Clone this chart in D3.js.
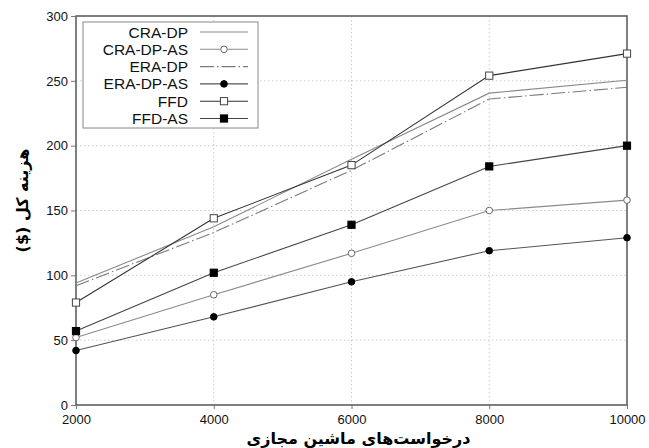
<!DOCTYPE html>
<html>
<head>
<meta charset="utf-8">
<script src="https://cdn.jsdelivr.net/npm/d3@7"></script>
<style>
body { margin: 0; background: #fff; }
text { font-family: "Liberation Sans", Arial, sans-serif; }
</style>
</head>
<body>
<script>
var requests = [2000, 4000, 6000, 8000, 10000];
var xTicks = [2000, 4000, 6000, 8000, 10000];
var yTicks = [0, 50, 100, 150, 200, 250, 300];

var craDp   = [94, 137.5, 189.5, 240.5, 250.5];
var craDpAs = [52, 85, 117, 150, 158];
var eraDp   = [92, 133, 181, 236, 245];
var eraDpAs = [42, 68, 95, 119, 129];
var ffd     = [79, 144, 185, 254, 271];
var ffdAs   = [57, 102, 139, 184, 200];

var seriesNames = ["CRA-DP", "CRA-DP-AS", "ERA-DP", "ERA-DP-AS", "FFD", "FFD-AS"];
var seriesValues = [craDp, craDpAs, eraDp, eraDpAs, ffd, ffdAs];
var styles = [
  {stroke: "#8a8a8a", dash: null, marker: null},
  {stroke: "#8a8a8a", dash: null, marker: "circle", fill: "#fff"},
  {stroke: "#7a7a7a", dash: "14,3,1.5,3", marker: null},
  {stroke: "#555", dash: null, marker: "circle", fill: "#000"},
  {stroke: "#333", dash: null, marker: "square", fill: "#fff"},
  {stroke: "#444", dash: null, marker: "square", fill: "#000"}
];

var W = 649, H = 448;
var margin = {left: 76, top: 16, right: 22, bottom: 43};
var w = W - margin.left - margin.right;
var h = H - margin.top - margin.bottom;

var svg = d3.select("body").append("svg")
  .attr("width", W)
  .attr("height", H);

var g = svg.append("g")
  .attr("transform", "translate(" + margin.left + "," + margin.top + ")");

var x = d3.scaleLinear().domain([2000, 10000]).range([0, w]);
var y = d3.scaleLinear().domain([0, 300]).range([h, 0]);

// grid
g.append("g").selectAll("line")
  .data(yTicks.slice(1, -1))
  .enter().append("line")
  .attr("x1", 0).attr("x2", w)
  .attr("y1", d => y(d)).attr("y2", d => y(d))
  .attr("stroke", "#ccc").attr("stroke-dasharray", "1.5,2.5");
g.append("g").selectAll("line")
  .data(xTicks.slice(1, -1))
  .enter().append("line")
  .attr("y1", 0).attr("y2", h)
  .attr("x1", d => x(d)).attr("x2", d => x(d))
  .attr("stroke", "#ccc").attr("stroke-dasharray", "1.5,2.5");

// frame
g.append("rect")
  .attr("width", w).attr("height", h)
  .attr("fill", "none").attr("stroke", "#555").attr("stroke-width", 1.5);

var xAxis = d3.axisBottom(x).tickValues(xTicks).tickSize(4).tickPadding(6).tickFormat(d3.format("d"));
var yAxis = d3.axisLeft(y).tickValues(yTicks).tickSize(5);

g.append("g").attr("transform", "translate(0," + h + ")").call(xAxis)
  .call(a => a.select(".domain").remove())
  .call(a => a.selectAll("line").attr("stroke", "#777"))
  .call(a => a.selectAll("text").attr("font-size", 13).attr("fill", "#111"));
g.append("g").call(yAxis)
  .call(a => a.select(".domain").remove())
  .call(a => a.selectAll("line").attr("stroke", "#777"))
  .call(a => a.selectAll("text").attr("font-size", 13).attr("fill", "#111").attr("x", -8));

var line = d3.line().x((d, i) => x(requests[i])).y(d => y(d));

function drawMarker(sel, st, cx, cy) {
  if (st.marker === "circle") {
    sel.append("circle").attr("cx", cx).attr("cy", cy).attr("r", 3.3)
      .attr("fill", st.fill).attr("stroke", st.fill === "#000" ? "#000" : "#666").attr("stroke-width", 1);
  } else if (st.marker === "square") {
    sel.append("rect").attr("x", cx - 3.6).attr("y", cy - 3.6).attr("width", 7.2).attr("height", 7.2)
      .attr("fill", st.fill).attr("stroke", st.fill === "#000" ? "#000" : "#444").attr("stroke-width", 1);
  }
}

seriesValues.forEach(function (vals, k) {
  var st = styles[k];
  g.append("path").datum(vals)
    .attr("d", line)
    .attr("fill", "none")
    .attr("stroke", st.stroke)
    .attr("stroke-width", 1.1)
    .attr("stroke-dasharray", st.dash);
  var mg = g.append("g");
  vals.forEach(function (v, i) { drawMarker(mg, st, x(requests[i]), y(v)); });
});

// legend
var lg = g.append("g").attr("transform", "translate(7,6)");
lg.append("rect").attr("width", 175).attr("height", 106)
  .attr("fill", "#fff").attr("stroke", "#888").attr("stroke-width", 1);
seriesNames.forEach(function (name, k) {
  var st = styles[k];
  var yy = 10 + k * 17.3;
  lg.append("text").attr("x", 105).attr("y", yy).attr("dy", "0.36em")
    .attr("text-anchor", "end").attr("font-size", 15.5).attr("fill", "#111").text(name);
  lg.append("line").attr("x1", 117).attr("x2", 165).attr("y1", yy).attr("y2", yy)
    .attr("stroke", st.stroke).attr("stroke-width", 1.1).attr("stroke-dasharray", st.dash ? "14,3,1.5,3" : null);
  drawMarker(lg, st, 141, yy);
});

// axis titles
svg.append("text")
  .attr("x", margin.left + w / 2 + 7).attr("y", 444)
  .attr("text-anchor", "middle")
  .attr("direction", "rtl")
  .attr("font-size", 16).attr("font-weight", "bold")
  .style("font-family", "'DejaVu Sans', sans-serif")
  .text("درخواست‌های ماشین مجازی");

svg.append("text")
  .attr("transform", "translate(28," + (margin.top + h / 2 - 10) + ") rotate(-90)")
  .attr("text-anchor", "middle")
  .attr("direction", "rtl")
  .attr("font-size", 16).attr("font-weight", "bold")
  .style("font-family", "'DejaVu Sans', sans-serif")
  .text("هزینه کل ($)");
</script>
</body>
</html>
